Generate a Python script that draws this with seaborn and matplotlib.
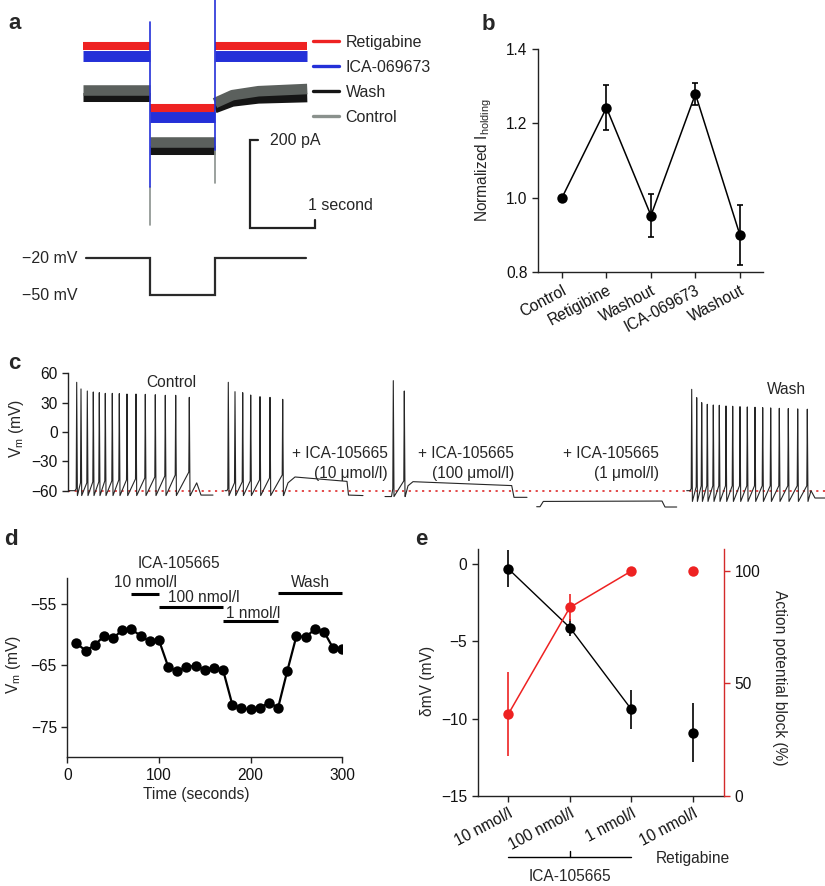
import matplotlib
matplotlib.use("Agg")
import matplotlib.pyplot as plt
import seaborn as sns
import numpy as np
import pandas as pd
from matplotlib.lines import Line2D

# ---------------- data ----------------
# Panel a: holding current traces (pA, relative) ; step protocol
a_names = ["Wash", "Control", "ICA-069673", "Retigabine"]          # draw order
a_pre = [-19, -2, 74, 98]                                           # before step
a_step = [-139, -120, -64, -43]                                     # during step
a_post_t = [2.03, 2.3, 2.7, 3.45]                                   # s
a_post = [[-45, -30, -23, -20], [-32, -14, -5, 0], [74, 74, 74, 74], [98, 98, 98, 98]]
a_step_on, a_step_off, a_end = 1.03, 2.03, 3.45
a_trans_on = {"ICA-069673": (152, -223), "Control": (-223, -309)}
a_trans_off = {"ICA-069673": (205, -139), "Control": (-139, -214)}
a_hold_mV, a_step_mV = -20, -50
legend_names = ["Retigabine", "ICA-069673", "Wash", "Control"]

# Panel b
b_labels = ["Control", "Retigibine", "Washout", "ICA-069673", "Washout"]
b_mean = [1.00, 1.242, 0.952, 1.279, 0.900]
b_err = [0.0, 0.061, 0.059, 0.030, 0.080]

# Panel c: current-clamp recordings (time units arbitrary, mV)
c_ctrl_start = ([0.0, 0.07], [-60, -60])
c_ctrl_spk_t = [0.087, 0.13, 0.193, 0.253, 0.313, 0.373, 0.443, 0.513, 0.59, 0.68, 0.773, 0.873, 0.973, 1.077, 1.213]
c_ctrl_spk_v = [50.8, 44.0, 41.9, 40.9, 40.2, 39.5, 39.5, 39.2, 38.8, 38.8, 38.5, 38.1, 37.5, 37.5, 35.4]
c_ctrl_thr = [-58, -52, -52, -51, -51, -50, -50, -49, -49, -48, -47, -46, -45, -44, -41]
c_ctrl_tail = ([1.222, 1.287, 1.33, 1.45], [-65, -52, -64.5, -64.5])

c_s2_start = ([1.57, 1.59], [-60, -60])
c_s2_spk_t = [1.603, 1.67, 1.747, 1.827, 1.92, 2.02, 2.147]
c_s2_spk_v = [50.8, 41.2, 40.2, 37.8, 36.1, 35.4, 33.4]
c_s2_thr = [-58, -52, -51, -50, -49, -47, -44]
c_s2_tail = ([2.156, 2.2, 2.27, 2.79, 2.805, 2.95], [-65, -52, -46, -50.5, -64.5, -65])

c_s3_start = ([3.17, 3.235], [-66, -66])
c_s3_spk_t = [3.253, 3.363]
c_s3_spk_v = [52.5, 41.9]
c_s3_thr = [-58, -50]
c_s3_tail = ([3.372, 3.40, 3.45, 4.437, 4.46, 4.59], [-66, -55, -50.8, -54.8, -66.8, -66.8])

c_s4_tail = ([4.687, 4.72, 4.753, 5.94, 5.97, 6.087], [-76.4, -76.4, -71, -70.6, -76.7, -76.7])

c_wash_start = ([6.187, 6.22], [-60, -60])
c_wash_spk_t = [6.237, 6.287, 6.337, 6.393, 6.453, 6.513, 6.58, 6.647, 6.72, 6.793, 6.87, 6.947, 7.027, 7.113, 7.203, 7.297, 7.393]
c_wash_spk_v = [43.6, 35.1, 30.0, 28.3, 27.6, 27.3, 26.6, 26.3, 25.9, 25.6, 25.3, 24.9, 24.6, 24.2, 23.9, 23.6, 23.3]
c_wash_thr = [-58, -56, -55, -55, -55, -55, -55, -55, -55, -55, -55, -55, -55, -55, -55, -55, -55]
c_wash_tail = ([7.40, 7.43, 7.47, 7.57], [-71, -60, -67.5, -67.5])

# Panel d
d_time = [10, 20, 30, 40, 50, 60, 70, 80, 90, 100, 110, 120, 130, 140, 150,
          160, 170, 180, 190, 200, 210, 220, 230, 240, 250, 260, 270, 280, 290, 300]
d_vm = [-61.4, -62.6, -61.7, -60.2, -60.6, -59.2, -59.1, -60.2, -61.1, -60.9,
        -65.2, -66.0, -65.2, -65.1, -65.7, -65.4, -65.8, -71.4, -72.0, -72.2,
        -71.9, -71.1, -71.9, -65.9, -60.2, -60.4, -59.1, -59.5, -62.2, -62.3]
d_bar_labels = ["10 nmol/l", "100 nmol/l", "1 nmol/l", "Wash"]
d_bar_start = [70, 100, 170, 230]
d_bar_end = [100, 170, 230, 300]

# Panel e
e_labels = ["10 nmol/l", "100 nmol/l", "1 nmol/l", "10 nmol/l"]
e_dmv = [-0.31, -4.11, -9.40, -10.91]
e_dmv_err = [1.20, 0.57, 1.27, 1.89]
e_block = [36.4, 83.8, 100.0, 100.0]
e_block_err = [18.55, 6.2, 0.0, 0.0]

# ---------------- style ----------------
sns.set_style("ticks")
plt.rcParams["font.family"] = ["Liberation Sans", "DejaVu Sans"]
plt.rcParams["mathtext.fontset"] = "custom"
plt.rcParams["mathtext.rm"] = "Liberation Sans"
plt.rcParams["axes.linewidth"] = 1.0
for ax_ in ("xtick", "ytick"):
    plt.rcParams[f"{ax_}.major.width"] = 1.0
    plt.rcParams[f"{ax_}.major.size"] = 4
    plt.rcParams[f"{ax_}.color"] = "#222222"
    plt.rcParams[f"{ax_}.labelcolor"] = "#111111"
plt.rcParams["axes.edgecolor"] = "#222222"

FS = 11.2
FSA = 11.5
RED = "#ee2222"
BLUE = "#2430d8"
W, H = 825, 886
fig = plt.figure(figsize=(W / 100, H / 100), dpi=100)


def add_ax(x0, y0, x1, y1):
    return fig.add_axes([x0 / W, 1 - y1 / H, (x1 - x0) / W, (y1 - y0) / H])


# ---------------- panel a ----------------
axa = add_ax(83, 0, 320, 230)
axa.axis("off")
axa.set_xlim(0, 3.646)
axa.set_ylim(-320.5, 202.3)
a_colors = {"Retigabine": RED, "ICA-069673": BLUE, "Wash": "#151515", "Control": "#5b605d"}
a_width = {"Retigabine": 5.8, "ICA-069673": 7.9, "Wash": 6.5, "Control": 7.6}
for i, nm in enumerate(a_names):
    kw = dict(color=a_colors[nm], lw=a_width[nm], solid_capstyle="butt")
    axa.plot([0, a_step_on], [a_pre[i], a_pre[i]], **kw)
    axa.plot([a_step_on, a_step_off], [a_step[i], a_step[i]], **kw)
    axa.plot(a_post_t, a_post[i], **kw)
for nm in ["Control", "ICA-069673"]:
    c = "#8a918d" if nm == "Control" else BLUE
    axa.plot([a_step_on, a_step_on], a_trans_on[nm], color=c, lw=1.2)
    axa.plot([a_step_off, a_step_off], a_trans_off[nm], color=c, lw=1.2)
# scale bar
sb_t0 = 2.569
axa.plot([sb_t0 + 0.12, sb_t0, sb_t0, sb_t0 + 1.0, sb_t0 + 1.0], [-116, -116, -316, -316, -298],
         color="#222222", lw=1.6, clip_on=False, solid_joinstyle="miter")
axa.text(sb_t0 + 0.31, -116, "200 pA", fontsize=FSA, va="center", ha="left")
axa.text(sb_t0 + 0.89, -264, "1 second", fontsize=FSA, va="center", ha="left", clip_on=False)

leg_handles = [Line2D([], [], color=RED, lw=2.4),
               Line2D([], [], color=BLUE, lw=2.4),
               Line2D([], [], color="#151515", lw=2.4),
               Line2D([], [], color="#8a918d", lw=2.4)]
fig.legend(leg_handles, legend_names, loc="upper left", bbox_to_anchor=(313 / W, 1 - 35 / H),
           frameon=False, fontsize=FSA, handlelength=1.6, handletextpad=0.45,
           labelspacing=0.62, borderpad=0, borderaxespad=0)

axv = add_ax(83, 250, 320, 300)
axv.axis("off")
axv.set_xlim(0, 3.646)
axv.set_ylim(-54.05, -13.5)
axv.plot([0.05, a_step_on, a_step_on, a_step_off, a_step_off, 3.43],
         [a_hold_mV, a_hold_mV, a_step_mV, a_step_mV, a_hold_mV, a_hold_mV],
         color="#2a2a2a", lw=1.6, solid_joinstyle="miter")
axv.text(-0.09, a_hold_mV, "\u221220 mV", ha="right", va="center", fontsize=FSA, clip_on=False)
axv.text(-0.09, a_step_mV, "\u221250 mV", ha="right", va="center", fontsize=FSA, clip_on=False)

# ---------------- panel b ----------------
axb = add_ax(538, 49, 763, 272)
xb = list(range(len(b_mean)))
sns.lineplot(x=xb, y=b_mean, ax=axb, color="black", lw=1.1, marker="o", markersize=7.5,
             markeredgewidth=0, estimator=None, sort=False)
axb.errorbar(xb, b_mean, yerr=b_err, fmt="none", ecolor="black", elinewidth=1.2,
             capsize=2.4, capthick=1.2)
axb.set_xlim(-0.54, 4.52)
axb.set_ylim(0.8, 1.4)
axb.set_yticks([0.8, 1.0, 1.2, 1.4])
axb.set_yticklabels(["0.8", "1.0", "1.2", "1.4"], fontsize=FS)
axb.set_xticks(xb)
axb.set_xticklabels(b_labels, rotation=28, ha="right", rotation_mode="anchor", fontsize=FS)
axb.set_ylabel("Normalized I$_\\mathregular{holding}$", fontsize=FS)
axb.yaxis.set_label_coords(-0.196, 0.5)
sns.despine(ax=axb)

# ---------------- panel c ----------------
axc = add_ax(68, 360, 825, 512)
axc.set_xlim(0, 7.57)
axc.set_ylim(-81.8, 73.6)


def build(start, spk_t, spk_v, thr, trough, tail):
    ts, vs = list(start[0]), list(start[1])
    for st, sv, th in zip(spk_t, spk_v, thr):
        ts += [st - 0.005, st, st + 0.007]
        vs += [th, sv, trough]
    ts += list(tail[0])
    vs += list(tail[1])
    return ts, vs


segs = [build(c_ctrl_start, c_ctrl_spk_t, c_ctrl_spk_v, c_ctrl_thr, -65, c_ctrl_tail),
        build(c_s2_start, c_s2_spk_t, c_s2_spk_v, c_s2_thr, -65, c_s2_tail),
        build(c_s3_start, c_s3_spk_t, c_s3_spk_v, c_s3_thr, -66, c_s3_tail),
        (list(c_s4_tail[0]), list(c_s4_tail[1])),
        build(c_wash_start, c_wash_spk_t, c_wash_spk_v, c_wash_thr, -71, c_wash_tail)]
axc.axhline(-60, color="#e03a3a", lw=1.3, dashes=(1.2, 2.5))
for ts, vs in segs:
    axc.plot(ts, vs, color="#262626", lw=0.8)
axc.set_yticks([-60, -30, 0, 30, 60])
axc.set_yticklabels(["\u221260", "\u221230", "0", "30", "60"], fontsize=FS)
axc.set_xticks([])
for s in ("top", "right", "bottom"):
    axc.spines[s].set_visible(False)
axc.spines["left"].set_bounds(-60, 60)
axc.set_ylabel("V$_\\mathregular{m}$ (mV)", fontsize=FS)
axc.yaxis.set_label_coords(-0.055, 0.55)
axc.text(1.03, 51, "Control", ha="center", va="center", fontsize=FS)
for xr, conc in [(3.20, "(10 \u03bcmol/l)"), (4.46, "(100 \u03bcmol/l)"), (5.91, "(1 \u03bcmol/l)")]:
    axc.text(xr, -21.5, "+ ICA-105665", ha="right", va="center", fontsize=FS)
    axc.text(xr, -42, conc, ha="right", va="center", fontsize=FS)
axc.text(7.19, 43, "Wash", ha="center", va="center", fontsize=FS)

# ---------------- panel d ----------------
axd = add_ax(67.3, 578.3, 342.3, 757.3)
sns.lineplot(x=d_time, y=d_vm, ax=axd, color="black", lw=1.6, marker="o", markersize=7.5,
             markeredgewidth=0, estimator=None, sort=False)
axd.set_xlim(0, 300)
axd.set_ylim(-80, -50.8)
axd.set_xticks([0, 100, 200, 300])
axd.set_xticklabels(["0", "100", "200", "300"], fontsize=FS)
axd.set_yticks([-55, -65, -75])
axd.set_yticklabels(["\u221255", "\u221265", "\u221275"], fontsize=FS)
sns.despine(ax=axd)
axd.set_xlabel("Time (seconds)", fontsize=FS)
axd.xaxis.set_label_coords(0.47, -0.165)
axd.set_ylabel("V$_\\mathregular{m}$ (mV)", fontsize=FS)
axd.yaxis.set_label_coords(-0.16, 0.516)
d_bar_y = [-53.3, -55.5, -57.7, -53.2]
d_lab_pos = [(84.8, -51.5), (148.8, -53.9), (203, -56.6), (265.8, -51.5)]
for lab, s, e, by, (lx, ly) in zip(d_bar_labels, d_bar_start, d_bar_end, d_bar_y, d_lab_pos):
    axd.plot([s, e], [by, by], color="black", lw=2.2, clip_on=False, solid_capstyle="butt")
    axd.text(lx, ly, lab, ha="center", va="center", fontsize=FS, clip_on=False)
axd.text(122, -48.4, "ICA-105665", ha="center", va="center", fontsize=FS, clip_on=False)

# ---------------- panel e ----------------
axe = add_ax(477.7, 549.3, 724, 795.7)
xe = list(range(len(e_dmv)))
sns.lineplot(x=xe[:3], y=e_dmv[:3], ax=axe, color="black", lw=1.0, estimator=None, sort=False)
axe.errorbar(xe, e_dmv, yerr=e_dmv_err, fmt="o", color="black", ms=7.5, mew=0,
             elinewidth=1.2, capsize=3.6, capthick=1.2, clip_on=False, zorder=3)
axe.set_xlim(-0.5, 3.51)
axe.set_ylim(-15, 0.96)
axe.set_yticks([0, -5, -10, -15])
axe.set_yticklabels(["0", "\u22125", "\u221210", "\u221215"], fontsize=FS)
axe.set_xticks(xe)
axe.set_xticklabels(e_labels, rotation=28, ha="right", rotation_mode="anchor", fontsize=FS)
axe.spines["top"].set_visible(False)
axe.spines["right"].set_visible(False)
axe.set_ylabel("\u03b4mV (mV)", fontsize=FS)
axe.yaxis.set_label_coords(-0.173, 0.466)

axe2 = axe.twinx()
sns.lineplot(x=xe[:3], y=e_block[:3], ax=axe2, color=RED, lw=1.1, estimator=None, sort=False)
axe2.errorbar(xe, e_block, yerr=e_block_err, fmt="o", color=RED, ecolor=RED, ms=7.5, mew=0,
              elinewidth=1.2, capsize=3.6, capthick=1.2, clip_on=False, zorder=3)
axe2.set_ylim(0, 109.7)
axe2.set_yticks([0, 50, 100])
axe2.set_yticklabels(["0", "50", "100"], fontsize=FS)
axe2.tick_params(axis="y", colors="#d42a2a", labelcolor="#111111")
for s in ("top", "left", "bottom"):
    axe2.spines[s].set_visible(False)
axe2.spines["right"].set_color("#d42a2a")
axe2.set_ylabel("Action potential block (%)", fontsize=FS, rotation=270, va="bottom", ha="center")
axe2.yaxis.set_label_coords(1.194, 0.478)

tr = axe.get_xaxis_transform()
axe.plot([0, 2], [-0.250, -0.250], transform=tr, color="black", lw=1.0, clip_on=False)
axe.plot([1, 1], [-0.250, -0.224], transform=tr, color="black", lw=1.0, clip_on=False)
axe.text(1, -0.328, "ICA-105665", transform=tr, ha="center", va="center", fontsize=FS)
axe.text(3, -0.253, "Retigabine", transform=tr, ha="center", va="center", fontsize=FS)

# ---------------- panel letters ----------------
for lx, ly, L in [(8, 29, "a"), (482, 30, "b"), (8, 369, "c"), (4, 545, "d"), (415, 545, "e")]:
    fig.text(lx / W, 1 - ly / H, L, fontsize=16, fontweight="bold", ha="left", va="baseline")

fig.savefig("out.png", dpi=100)
